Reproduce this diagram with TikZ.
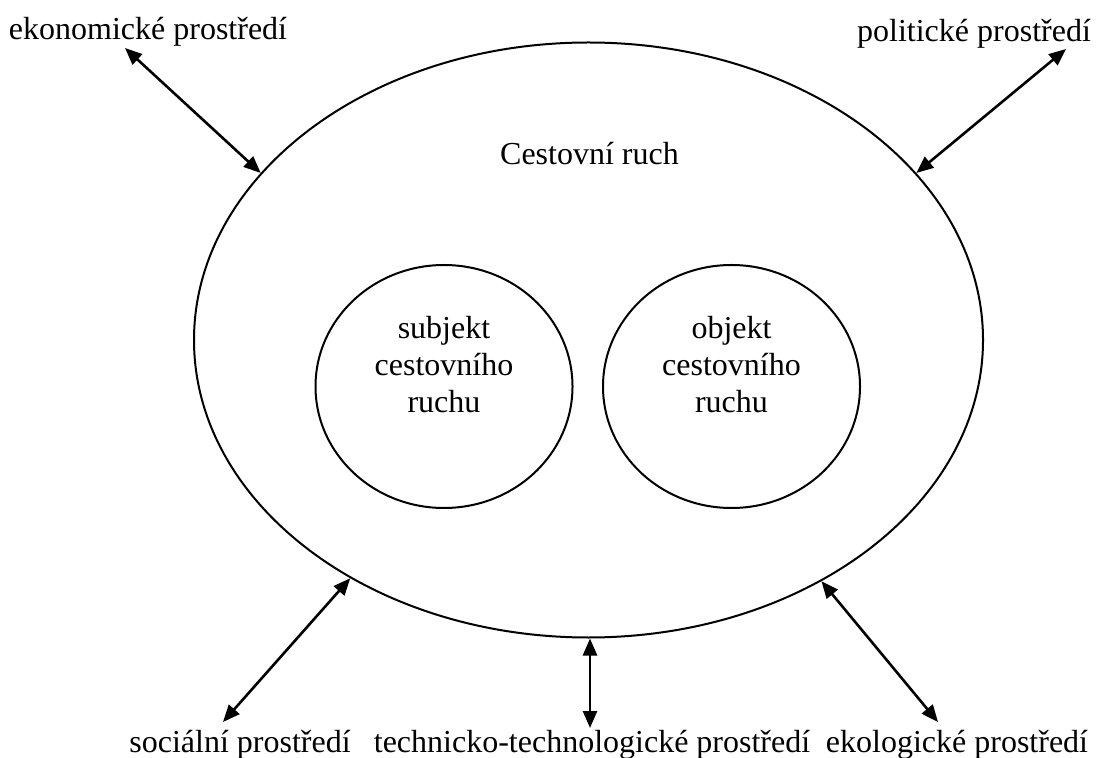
\documentclass[tikz,border=0pt]{standalone}
\usepackage{fontspec}
\setmainfont{Liberation Serif}
\usetikzlibrary{calc,shapes.geometric,arrows.meta}

\begin{document}
\begin{tikzpicture}[x=0.5pt, y=-0.5pt,
  every node/.style={font=\fontsize{16}{18.5}\selectfont},
  okolo/.style={shape=ellipse, draw, line width=1pt, inner sep=0pt},
  popis/.style={anchor=base, inner sep=0pt},
  vazba/.style={{Triangle[length=8.5pt,width=7pt]}-{Triangle[length=8.5pt,width=7pt]}, line width=1.3pt}]
  \useasboundingbox (0,0) rectangle (1096,758);

  % 1) Cestovni ruch a jeho dve slozky
  \node[okolo, minimum width=394.5pt, minimum height=297.5pt] (ruch) at (588.5,340) {};
  \node[popis] (ruchtext) at (589.5,165) {Cestovní ruch};
  \node[okolo, minimum width=128.5pt, minimum height=121.5pt] (subj) at (444,386.5) {};
  \node[align=center, inner sep=0pt] (subjtext) at (444,365) {subjekt\\cestovního\\ruchu};
  \node[okolo, minimum width=128.5pt, minimum height=121.5pt] (obj) at (731.5,386.5) {};
  \node[align=center, inner sep=0pt] (objtext) at (731.5,365) {objekt\\cestovního\\ruchu};

  % 2) Prostredi kolem
  \node[popis] (ekon) at (148,40) {ekonomické prostředí};
  \node[popis] (polit) at (974,42) {politické prostředí};
  \node[popis] (soc) at (240,752) {sociální prostředí};
  \node[popis] (tech) at (592,752) {technicko-technologické prostředí};
  \node[popis] (ekol) at (957,752) {ekologické prostředí};

  % 3) Vazby
  \coordinate (ekonkon) at (125,48);
  \coordinate (politkon) at (1066,49);
  \coordinate (sockon) at (223,722);
  \coordinate (techkon) at (590,728);
  \coordinate (ekolkon) at (938,722);
  \draw[vazba] (ekonkon) -- (ruch.153.3);
  \draw[vazba] (politkon) -- (ruch.27.1);
  \draw[vazba] (sockon) -- (ruch.-135.4);
  \draw[vazba] (techkon) -- (techkon |- ruch.south);
  \draw[vazba] (ekolkon) -- (ruch.-46.3);
\end{tikzpicture}
\end{document}
